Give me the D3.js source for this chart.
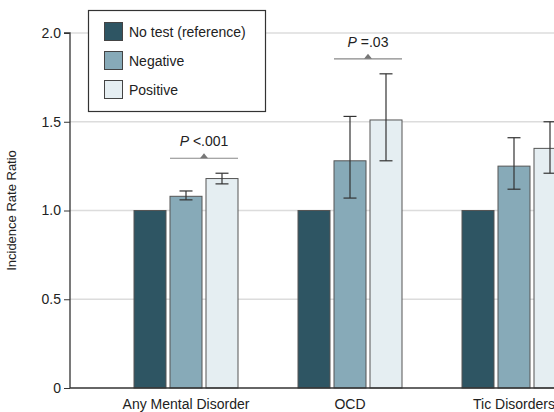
<!DOCTYPE html>
<html><head><meta charset="utf-8">
<script src="https://cdn.jsdelivr.net/npm/d3@7"></script>
<style>body{margin:0;background:#fff}svg{display:block}text{font-family:"Liberation Sans",Arial,sans-serif}</style>
</head><body><svg id="c" width="554" height="412"></svg>
<script>
const categories = ["Any Mental Disorder", "OCD", "Tic Disorders"];
const series = ["No test (reference)", "Negative", "Positive"];
const colors = ["#2e5563", "#87aab8", "#e5eef2"];
const values = [
  [1.0, 1.08, 1.18],
  [1.0, 1.28, 1.51],
  [1.0, 1.25, 1.35]
];
const lower = [
  [null, 1.06, 1.15],
  [null, 1.07, 1.28],
  [null, 1.12, 1.21]
];
const upper = [
  [null, 1.11, 1.21],
  [null, 1.53, 1.77],
  [null, 1.41, 1.50]
];
const pLabels = ["<.001", "=.03", null];
const yTicks = [0, 0.5, 1.0, 1.5, 2.0];
const yTickLabels = ["0", "0.5", "1.0", "1.5", "2.0"];

const svg = d3.select("#c");
const mL = 70, mR = 554, mT = 33, mB = 388;
const y = d3.scaleLinear().domain([0, 2]).range([mB, mT]);
const x = d3.scalePoint().domain(categories).range([186, 514]);
const xs = d3.scaleBand().domain(series).range([-52, 52]).paddingInner(0.111);

// gridlines
svg.append("g").selectAll("line").data(yTicks.filter(d => d > 0)).join("line")
  .attr("x1", mL).attr("x2", mR).attr("y1", d => y(d)).attr("y2", d => y(d))
  .attr("stroke", "#dcdcdc").attr("stroke-width", 1.5);

// y axis
const yAxis = d3.axisLeft(y).tickValues(yTicks).tickFormat((d, i) => yTickLabels[i]).tickSize(6).tickPadding(3);
const gy = svg.append("g").attr("transform", `translate(${mL},0)`).call(yAxis);
gy.select(".domain").attr("stroke", "#333").attr("stroke-width", 1.3).attr("d", `M-6,${mT}H0V${mB}`);
gy.selectAll(".tick line").attr("stroke", "#333");
gy.selectAll(".tick text").attr("font-size", 14).attr("fill", "#222").style("font-family", "Liberation Sans");

svg.append("text").attr("transform", `translate(16,${(mT + mB) / 2}) rotate(-90)`)
  .attr("text-anchor", "middle").attr("font-size", 13).attr("fill", "#222").text("Incidence Rate Ratio");

// bars
categories.forEach((c, ci) => {
  const g = svg.append("g").attr("transform", `translate(${x(c)},0)`);
  series.forEach((s, si) => {
    g.append("rect").attr("x", xs(s)).attr("width", xs.bandwidth())
      .attr("y", y(values[ci][si])).attr("height", y(0) - y(values[ci][si]))
      .attr("fill", colors[si]).attr("stroke", "#555").attr("stroke-width", 1);
  });
  series.forEach((s, si) => {
    if (lower[ci][si] == null) return;
    const cx = xs(s) + xs.bandwidth() / 2;
    const eg = g.append("g").attr("stroke", "#333").attr("stroke-width", 1.2);
    eg.append("line").attr("x1", cx).attr("x2", cx).attr("y1", y(lower[ci][si])).attr("y2", y(upper[ci][si]));
    [lower[ci][si], upper[ci][si]].forEach(v => {
      eg.append("line").attr("x1", cx - 6.5).attr("x2", cx + 6.5).attr("y1", y(v)).attr("y2", y(v));
    });
  });
  if (pLabels[ci]) {
    const maxUp = d3.max(upper[ci]);
    const ly = y(maxUp) - 15;
    const x0 = xs(series[1]), x1 = xs(series[2]) + xs.bandwidth();
    const mx = (x0 + x1) / 2;
    g.append("line").attr("x1", x0).attr("x2", x1).attr("y1", ly).attr("y2", ly)
      .attr("stroke", "#888").attr("stroke-width", 1.2);
    g.append("path").attr("d", `M${mx - 4},${ly}L${mx},${ly - 5}L${mx + 4},${ly}Z`).attr("fill", "#777");
    const t = g.append("text").attr("x", mx).attr("y", ly - 12).attr("text-anchor", "middle")
      .attr("font-size", 14).attr("fill", "#222");
    t.append("tspan").attr("font-style", "italic").text("P");
    t.append("tspan").text(" " + pLabels[ci]);
  }
});

// x axis
svg.append("line").attr("x1", mL).attr("x2", mR).attr("y1", mB).attr("y2", mB)
  .attr("stroke", "#333").attr("stroke-width", 1.3);
svg.append("g").selectAll("text").data(categories).join("text")
  .attr("x", d => x(d)).attr("y", 409).attr("text-anchor", "middle")
  .attr("font-size", 14).attr("fill", "#222").text(d => d);

// legend
const lg = svg.append("g");
lg.append("rect").attr("x", 88.5).attr("y", 10.5).attr("width", 177).attr("height", 101)
  .attr("fill", "#fff").attr("stroke", "#333").attr("stroke-width", 1.2);
series.forEach((s, i) => {
  lg.append("rect").attr("x", 104.5).attr("y", 22.5 + i * 29).attr("width", 18).attr("height", 18)
    .attr("fill", colors[i]).attr("stroke", "#444").attr("stroke-width", 1);
  lg.append("text").attr("x", 129).attr("y", 32 + i * 29).attr("dy", "0.35em")
    .attr("font-size", 14).attr("fill", "#222").text(s);
});
</script></body></html>
